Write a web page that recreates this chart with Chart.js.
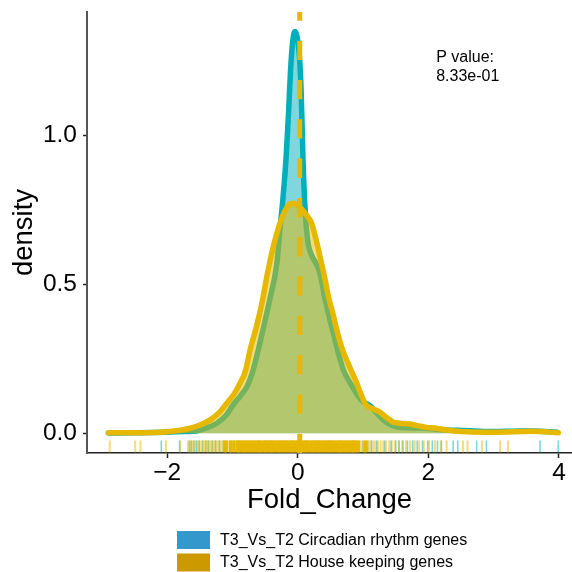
<!DOCTYPE html>
<html>
<head>
<meta charset="utf-8">
<script src="https://cdn.jsdelivr.net/npm/chart.js@4.4.1/dist/chart.umd.min.js"></script>
<style>
  html, body { margin: 0; padding: 0; background: #fff; }
  #wrap { width: 572px; height: 572px; }
</style>
</head>
<body>
<div id="wrap"><canvas id="densityChart" width="572" height="572"></canvas></div>
<script>
const seriesNames = ["T3_Vs_T2 Circadian rhythm genes", "T3_Vs_T2 House keeping genes"];

// density curves
const circadianX = [-2.9, -2.5, -2.0, -1.75, -1.55, -1.4, -1.24, -1.1, -0.99, -0.88, -0.78, -0.7, -0.63, -0.53, -0.43,
  -0.32, -0.27, -0.23, -0.18, -0.14, -0.11, -0.075, -0.04, -0.01, 0.02, 0.05, 0.08, 0.11, 0.15, 0.21,
  0.28, 0.34, 0.42, 0.54, 0.62, 0.7, 0.8, 0.9, 0.98, 1.05, 1.12, 1.2, 1.31, 1.41, 1.51,
  1.75, 1.97, 2.2, 2.45, 2.7, 3.0, 3.3, 3.6, 3.97];
const circadianDensity = [0.001, 0.002, 0.004, 0.006, 0.008, 0.018, 0.034, 0.06, 0.095, 0.125, 0.156, 0.2, 0.257, 0.35, 0.447,
  0.57, 0.69, 0.78, 0.92, 1.08, 1.22, 1.32, 1.348, 1.33, 1.28, 1.16, 0.92, 0.76, 0.65, 0.598,
  0.57, 0.537, 0.447, 0.34, 0.27, 0.212, 0.17, 0.134, 0.11, 0.1, 0.09, 0.07, 0.045, 0.03, 0.022,
  0.018, 0.017, 0.012, 0.01, 0.008, 0.006, 0.007, 0.008, 0.004];

const housekeepingX = [-2.9, -2.5, -2.2, -2.0, -1.8, -1.65, -1.5, -1.34, -1.2, -1.09, -0.98, -0.885, -0.8, -0.73, -0.63,
  -0.55, -0.47, -0.375, -0.28, -0.2, -0.13, -0.07, 0.0, 0.07, 0.14, 0.21, 0.28, 0.34, 0.42, 0.47,
  0.54, 0.6, 0.67, 0.8, 0.9, 0.97, 1.05, 1.15, 1.25, 1.35, 1.46, 1.57, 1.72, 1.85, 1.97,
  2.1, 2.28, 2.59, 3.0, 3.3, 3.6, 3.99];
const housekeepingDensity = [0.002, 0.002, 0.003, 0.005, 0.01, 0.017, 0.028, 0.045, 0.07, 0.1, 0.13, 0.168, 0.21, 0.28, 0.36,
  0.436, 0.53, 0.626, 0.7, 0.745, 0.768, 0.772, 0.765, 0.75, 0.73, 0.705, 0.65, 0.593, 0.514, 0.458,
  0.4, 0.345, 0.29, 0.22, 0.17, 0.13, 0.095, 0.082, 0.072, 0.055, 0.038, 0.034, 0.031, 0.025, 0.02,
  0.018, 0.011, 0.005, 0.004, 0.005, 0.007, 0.002];

// rug (individual genes)
const circadianRug = [-2.09, -1.81, -1.66, -1.63, -1.59, -1.55, -1.51, -1.46, -1.41, -1.37, -1.31, -1.26, -1.2, -1.14,
  -1.08, -1.03, -0.97, -0.91, -0.6, -0.42, -0.25, -0.1, 0.02, 0.12, 0.3, 0.48, 0.66, 0.85, 1.0, 1.07, 1.13,
  1.21, 1.33, 1.43, 1.5, 1.55, 1.61, 1.68, 1.76, 1.83, 1.91, 1.99, 2.06, 2.14, 2.2, 2.38, 2.45, 2.74, 2.89, 3.71, 3.99];
const housekeepingRug = [-2.88, -2.49, -2.41, -2.02, -1.8,
  -1.68, -1.64, -1.61, -1.57, -1.53, -1.5, -1.46, -1.43, -1.39, -1.36, -1.33, -1.3, -1.27, -1.24, -1.21, -1.18,
  -1.15, -1.12, -1.1, -1.07, -1.04, -1.02, -0.99, -0.97, -0.94, -0.92, -0.9, -0.88,
  -0.86, -0.845, -0.826, -0.81, -0.79, -0.772, -0.755, -0.737, -0.72, -0.7, -0.683, -0.665, -0.647, -0.63, -0.61,
  -0.593, -0.575, -0.558, -0.54, -0.52, -0.503, -0.485, -0.467, -0.45, -0.43, -0.413, -0.395, -0.377, -0.36, -0.34,
  -0.323, -0.305, -0.287, -0.27, -0.25, -0.233, -0.215, -0.197, -0.18, -0.16, -0.143, -0.125, -0.107, -0.09, -0.07,
  -0.053, -0.035, -0.017, 0.0, 0.02, 0.037, 0.055, 0.073, 0.09, 0.11, 0.127, 0.145, 0.163, 0.18, 0.2, 0.217, 0.235,
  0.253, 0.27, 0.29, 0.307, 0.325, 0.343, 0.36, 0.38, 0.397, 0.415, 0.433, 0.45, 0.47, 0.487, 0.505, 0.523, 0.54,
  0.56, 0.577, 0.595, 0.613, 0.63, 0.65, 0.667, 0.685, 0.703, 0.72, 0.74, 0.757, 0.775, 0.793, 0.81, 0.83, 0.847,
  0.865, 0.883, 0.9, 0.92, 0.94,
  0.97, 1.0, 1.03, 1.05, 1.09, 1.12, 1.16, 1.19, 1.23, 1.27, 1.31, 1.35, 1.4, 1.44, 1.49, 1.55, 1.6, 1.66, 1.72,
  1.79, 1.86, 1.93, 2.01, 2.1, 2.19, 2.28, 2.53, 2.6, 2.82, 3.1, 3.22];

const meanLine = 0.03;
const xTicks = [-2, 0, 2, 4];
const yTicks = [0, 0.5, 1.0];
const pValueText = ["P value:", "8.33e-01"];

const FONT = "'Liberation Sans', Arial, Helvetica, sans-serif";
Chart.defaults.font.family = FONT;
Chart.defaults.color = "#000";

// the original panel is cut off at the right edge of the picture
const xMin = -3.228, xMax = 4.2, yMin = -0.066, yMax = 1.413;
const rugY = -0.044;

const toPoints = (xs, ys) => xs.map((x, i) => ({ x: x, y: ys[i] }));
const rugPoints = xs => xs.map(x => ({ x: x, y: rugY }));

// overlapping rug lines pile up to a solid colour, like in the original
function rugAlpha(values, i) {
  const v = values[i];
  const n = values.filter(u => Math.abs(u - v) < 0.025).length;
  return Math.min(1, 0.5 * n);
}

function noScalePadding(s) {
  s.paddingTop = 0; s.paddingBottom = 0; s.paddingLeft = 0; s.paddingRight = 0;
}

const annotations = {
  id: "annotations",
  afterDraw(chart) {
    const ctx = chart.ctx;
    const xs = chart.scales.x, ys = chart.scales.y;
    ctx.save();
    ctx.fillStyle = "#000";
    ctx.font = "16px " + FONT;
    ctx.textAlign = "left";
    ctx.textBaseline = "alphabetic";
    const px = xs.getPixelForValue(2.12);
    const py = ys.getPixelForValue(1.245);
    ctx.fillText(pValueText[0], px, py);
    ctx.fillText(pValueText[1], px, py + 18.5);

    // legend
    const boxColors = ["#3399CC", "#CC9900"];
    seriesNames.forEach((name, i) => {
      const top = 531 + i * 22.5;
      ctx.fillStyle = boxColors[i];
      ctx.fillRect(177, top, 33, 18);
      ctx.fillStyle = "#000";
      ctx.textBaseline = "middle";
      ctx.fillText(name, 220, top + 9.5);
    });
    ctx.restore();
  }
};

new Chart(document.getElementById("densityChart"), {
  type: "line",
  data: {
    datasets: [
      {
        label: seriesNames[0],
        data: toPoints(circadianX, circadianDensity),
        borderColor: "#00AFBB",
        backgroundColor: "rgba(0,175,187,0.5)",
        borderWidth: 5.5,
        borderCapStyle: "round",
        borderJoinStyle: "round",
        fill: "origin",
        pointRadius: 0,
        cubicInterpolationMode: "monotone",
        order: 5
      },
      {
        label: seriesNames[1],
        data: toPoints(housekeepingX, housekeepingDensity),
        borderColor: "#E7B800",
        backgroundColor: "rgba(231,184,0,0.5)",
        borderWidth: 5.5,
        borderCapStyle: "round",
        borderJoinStyle: "round",
        fill: "origin",
        pointRadius: 0,
        cubicInterpolationMode: "monotone",
        order: 4
      },
      {
        label: "mean",
        data: [{ x: meanLine, y: yMin }, { x: meanLine, y: 1.6 }],
        borderColor: "#E7B800",
        borderWidth: 5,
        borderDash: [19.3, 20],
        pointRadius: 0,
        fill: false,
        clip: 0,
        order: 3
      },
      {
        label: "rug1",
        data: rugPoints(circadianRug),
        showLine: false,
        pointStyle: "line",
        rotation: 90,
        pointRadius: 6,
        pointBorderWidth: 1.6,
        pointBorderColor: c => "rgba(0,175,187," + rugAlpha(circadianRug, c.dataIndex) + ")",
        order: 2
      },
      {
        label: "rug2",
        data: rugPoints(housekeepingRug),
        showLine: false,
        pointStyle: "line",
        rotation: 90,
        pointRadius: 6,
        pointBorderWidth: 2,
        pointBorderColor: c => "rgba(231,184,0," + rugAlpha(housekeepingRug, c.dataIndex) + ")",
        order: 1
      }
    ]
  },
  options: {
    responsive: false,
    animation: false,
    events: [],
    layout: { autoPadding: false, padding: { top: 12, right: 0, left: 0, bottom: 0 } },
    plugins: {
      legend: { display: false },
      tooltip: { enabled: false }
    },
    scales: {
      x: {
        type: "linear",
        min: xMin,
        max: xMax,
        afterBuildTicks: s => { s.ticks = xTicks.map(v => ({ value: v })); },
        afterFit: s => { s.height = 119; noScalePadding(s); },
        ticks: {
          font: { size: 24.5 },
          color: "#000",
          padding: 1,
          maxRotation: 0,
          autoSkip: false,
          callback: v => String(v).replace("-", "\u2212")
        },
        grid: { drawOnChartArea: false, drawTicks: true, tickLength: 5, tickColor: "#222", tickWidth: 1.5 },
        border: { color: "#222", width: 1.5 },
        title: { display: true, text: "Fold_Change", font: { size: 27.5 }, color: "#000", padding: { top: 0, bottom: 55 } }
      },
      y: {
        type: "linear",
        min: yMin,
        max: yMax,
        afterBuildTicks: s => { s.ticks = yTicks.map(v => ({ value: v })); },
        afterFit: s => { s.width = 87; noScalePadding(s); },
        ticks: {
          font: { size: 24.5 },
          color: "#000",
          padding: 6,
          callback: v => v.toFixed(1)
        },
        grid: { drawOnChartArea: false, drawTicks: true, tickLength: 4, tickColor: "#222", tickWidth: 1.5 },
        border: { color: "#555", width: 2 },
        title: { display: true, text: "density", font: { size: 27.5 }, color: "#000", padding: { top: 8, bottom: 0 } }
      }
    }
  },
  plugins: [annotations]
});
</script>
</body>
</html>
